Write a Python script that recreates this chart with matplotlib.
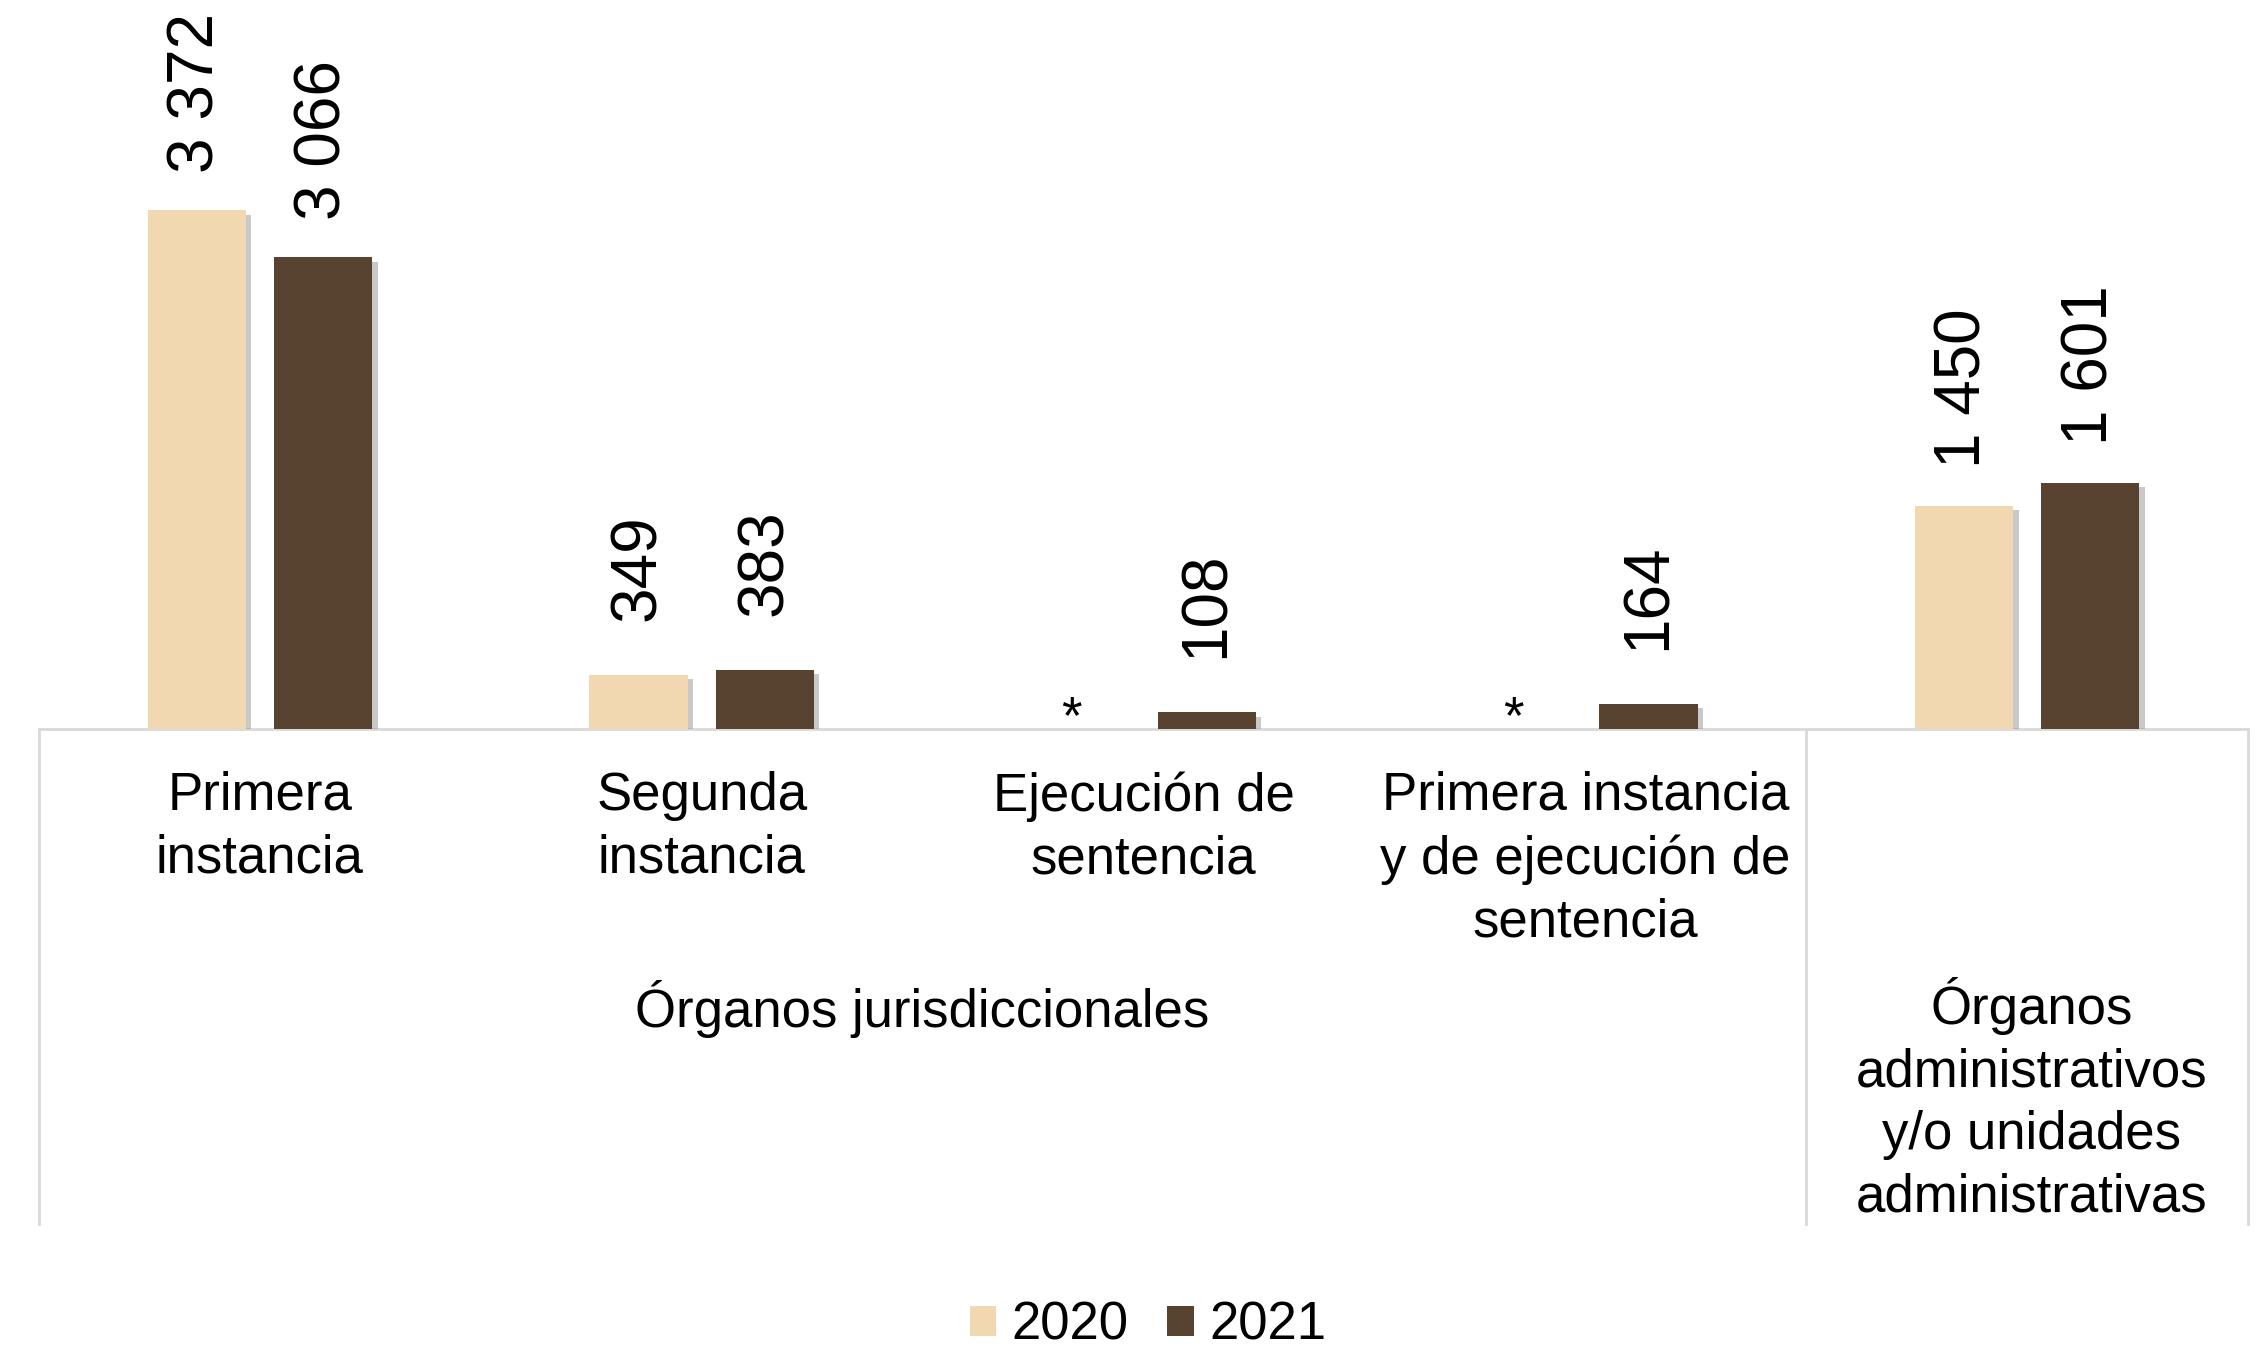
import matplotlib
matplotlib.use("Agg")
import matplotlib.pyplot as plt
import matplotlib.patheffects as pe
import matplotlib.transforms as mtransforms
from matplotlib.patches import Patch
import numpy as np

plt.rcParams['font.family'] = ['Liberation Sans', 'DejaVu Sans']

categories = ["Primera\ninstancia", "Segunda\ninstancia", "Ejecución de\nsentencia",
              "Primera instancia\ny de ejecución de\nsentencia", ""]
groups = ["Órganos jurisdiccionales",
          "Órganos\nadministrativos\ny/o unidades\nadministrativas"]
group_spans = [(0, 3), (4, 4)]
series_names = ["2020", "2021"]
values_2020 = [3372, 349, None, None, 1450]
values_2021 = [3066, 383, 108, 164, 1601]

colors = ["#F2D8B0", "#574330"]
W, H = 2264, 1351
fig = plt.figure(figsize=(W / 100, H / 100), dpi=100)
base_px = 729
ax = fig.add_axes([39 / W, (H - base_px) / H, 2209 / W, base_px / H])
ax.set_xlim(-0.5, 4.5)
ax.set_ylim(0, 4740)
ax.axis('off')

def yax(px):
    return (base_px - px) / base_px

blend = mtransforms.blended_transform_factory(ax.transData, ax.transAxes)
x = np.arange(len(categories))
width = 0.222
offsets = [-0.143, 0.143]
shadow = [pe.SimplePatchShadow(offset=(4, -3), shadow_rgbFace='#888888', alpha=0.45), pe.Normal()]

def fmt(v):
    return f"{v:,}".replace(",", " ")

for vals, off, col in zip([values_2020, values_2021], offsets, colors):
    for xi, v in zip(x, vals):
        if v is None:
            ax.annotate("*", xy=(xi + off - 0.02, 0), xytext=(0, -3), textcoords='offset points',
                        ha='center', va='baseline', fontsize=38, annotation_clip=False)
            continue
        b = ax.bar(xi + off, v, width=width, color=col, zorder=3)
        for p in b:
            p.set_path_effects(shadow)
        s = fmt(v)
        gap = 27 + (5 - len(s)) * 6
        ax.annotate(s, xy=(xi + off, v), xytext=(0, gap), textcoords='offset points',
                    ha='center', va='bottom', rotation=90, fontsize=46, annotation_clip=False)

line_kw = dict(color='#D9D9D9', lw=2, clip_on=False, zorder=1)
ax.plot([-0.5, 4.5], [0, 0], transform=blend, **line_kw)
for xv in [-0.5, 3.5, 4.5]:
    ax.plot([xv, xv], [0, yax(1224)], transform=blend, **line_kw)

for xi, lab in zip(x, categories):
    ax.text(xi, yax(771), lab, transform=blend, ha='center', va='top', fontsize=38,
            linespacing=1.33)

ax.text(1.5, yax(1027), groups[0], transform=blend, ha='center', va='baseline', fontsize=38)
ax.text(4.01, yax(1211), groups[1], transform=blend, ha='center', va='baseline',
        fontsize=38, linespacing=1.32)

handles = [Patch(facecolor=c, edgecolor='none') for c in colors]
fig.legend(handles, series_names, loc='lower center', bbox_to_anchor=(0.507, 0.0),
           ncol=2, frameon=False, fontsize=38, handlelength=0.51, handleheight=0.51,
           handletextpad=0.28, columnspacing=0.74, borderpad=0, borderaxespad=0)

fig.savefig("out.png", dpi=100)
